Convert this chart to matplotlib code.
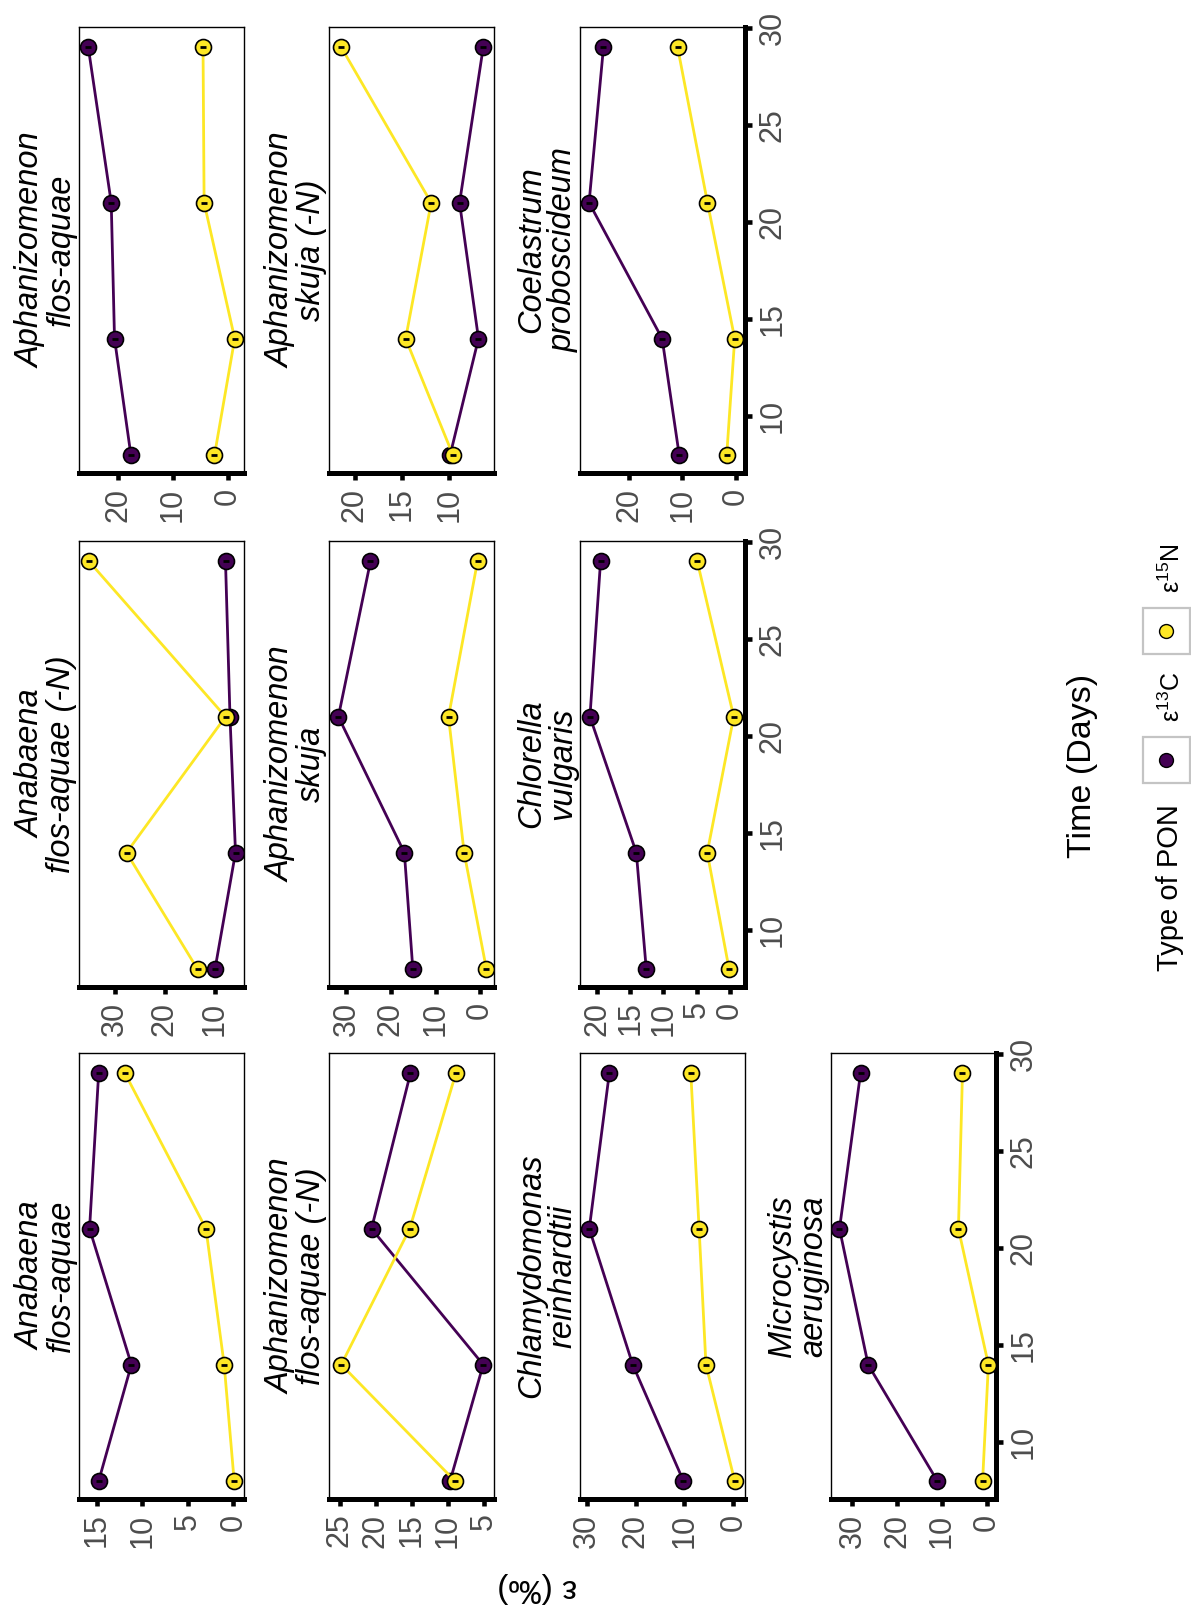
import matplotlib
matplotlib.use('Agg')
import matplotlib.pyplot as plt
from matplotlib.patches import Rectangle
from matplotlib.lines import Line2D

plt.rcParams['font.family'] = ['Liberation Sans', 'DejaVu Sans']
plt.rcParams['mathtext.default'] = 'regular'

# sampling days
days = [8, 14, 21, 29]

# facets, in facet_wrap order (3 per row in the unrotated plot)
species = ['Anabaena\nflos-aquae', 'Anabaena\nflos-aquae (-N)', 'Aphanizomenon\nflos-aquae',
           'Aphanizomenon\nflos-aquae (-N)', 'Aphanizomenon\nskuja', 'Aphanizomenon\nskuja (-N)',
           'Chlamydomonas\nreinhardtii', 'Chlorella\nvulgaris', 'Coelastrum\nproboscideum',
           'Microcystis\naeruginosa']

# epsilon 13C per facet (days 8, 14, 21, 29)
eps_c = [[14.8, 11.2, 15.8, 14.8],
         [10.0, 5.9, 7.0, 7.9],
         [17.7, 20.7, 21.3, 25.5],
         [9.7, 5.1, 20.6, 15.2],
         [15.1, 17.0, 31.8, 24.6],
         [9.9, 6.9, 8.9, 6.4],
         [10.2, 20.6, 29.5, 25.4],
         [12.6, 14.1, 21.1, 19.5],
         [10.6, 13.8, 27.5, 24.8],
         [11.0, 26.5, 32.9, 28.2]]

# epsilon 15N per facet
eps_n = [[-0.1, 1.0, 3.0, 11.9],
         [13.5, 27.7, 7.9, 35.2],
         [2.4, -1.3, 4.3, 4.5],
         [9.0, 24.8, 15.3, 8.9],
         [-1.4, 3.6, 7.1, 0.6],
         [9.6, 14.6, 11.9, 21.4],
         [-0.3, 5.6, 7.0, 8.7],
         [0.1, 3.4, -0.6, 4.9],
         [1.7, 0.2, 5.3, 10.9],
         [0.9, -0.4, 6.3, 5.4]]

eps_ticks = [[0, 5, 10, 15], [10, 20, 30], [0, 10, 20], [5, 10, 15, 20, 25], [0, 10, 20, 30],
             [10, 15, 20], [0, 10, 20, 30], [0, 5, 10, 15, 20], [0, 10, 20], [0, 10, 20, 30]]
eps_limits = [(16.96, -1.18), (37.2, 4.2), (27.2, -3.0), (26.5, 3.6), (33.9, -3.1),
              (22.7, 5.26), (31.4, -2.4), (22.6, -2.3), (29.2, -1.73), (34.8, -2.1)]
day_ticks = [10, 15, 20, 25, 30]

C_COL = '#440154'
N_COL = '#FDE725'
TICK_COL = '#4D4D4D'

W, H = 1191, 1607
fig = plt.figure(figsize=(W / 100, H / 100), dpi=100)

col_left = [79, 329, 580, 831]
row_top = [1053, 541, 27]
pw, ph = 165, 446


def fx(x):
    return x / W


def fy(y):
    return 1 - y / H


for i, name in enumerate(species):
    r, c = divmod(i, 3)
    x0, y0 = col_left[r], row_top[c]
    ax = fig.add_axes([fx(x0), fy(y0 + ph), pw / W, ph / H])

    ax.plot(eps_c[i], days, color=C_COL, lw=2, marker='o', ms=11.5, mfc=C_COL,
            mec='black', mew=1.2, zorder=3)
    ax.plot(eps_c[i], days, ls='none', marker='_', ms=5, mew=2, color='black', zorder=3.5)
    ax.plot(eps_n[i], days, color=N_COL, lw=2, marker='o', ms=11.5, mfc=N_COL,
            mec='black', mew=1.2, zorder=4)
    ax.plot(eps_n[i], days, ls='none', marker='_', ms=5, mew=2, color='black', zorder=4.5)

    ax.set_xlim(eps_limits[i])
    ax.set_ylim(7.08, 30.05)
    ax.set_xticks(eps_ticks[i])
    ax.tick_params(axis='x', direction='out', length=5, width=3.3, labelsize=22,
                   labelcolor=TICK_COL, pad=5.5, labelrotation=90)

    for s in ['top', 'left', 'right']:
        ax.spines[s].set_linewidth(1.0)
    ax.spines['bottom'].set_linewidth(3.6)

    show_time = i + 3 >= len(species)
    if show_time:
        ax.yaxis.tick_right()
        ax.set_yticks(day_ticks)
        ax.spines['right'].set_linewidth(3.6)
        ax.tick_params(axis='y', direction='out', length=5, width=3.3, labelsize=22,
                       labelcolor=TICK_COL, pad=4, labelrotation=90)
        for lab in ax.get_yticklabels():
            lab.set_va('center')
    else:
        ax.set_yticks([])

    ax.text(-0.01, 0.5, name, transform=ax.transAxes, rotation=90, ha='right', va='center',
            ma='center', fontsize=23.5, style='italic', linespacing=1.0)

fig.text(fx(537), fy(1587), 'ε (‰)', rotation=180, ha='center', va='center', fontsize=24)
fig.text(fx(1082), fy(766), 'Time (Days)', rotation=90, ha='center', va='center', fontsize=24.5)

# legend, drawn rotated like the rest of the figure
fig.text(fx(1170), fy(888), 'Type of PON', rotation=90, ha='center', va='center', fontsize=21)
legend_items = [('ε$^{13}$C', C_COL, 760), ('ε$^{15}$N', N_COL, 631)]
for label, col, yc in legend_items:
    fig.add_artist(Rectangle((fx(1143), fy(yc + 23)), 47 / W, 46 / H, transform=fig.transFigure,
                             fill=False, ec='#C4C4C4', lw=1.6))
    fig.add_artist(Line2D([fx(1166)], [fy(yc)], transform=fig.transFigure, marker='o', ms=10,
                          mfc=col, mec='black', mew=1.0, ls='none'))
    fig.text(fx(1172), fy(yc - 63), label, rotation=90, ha='center', va='center', fontsize=18)

fig.savefig('out.png', dpi=100)
